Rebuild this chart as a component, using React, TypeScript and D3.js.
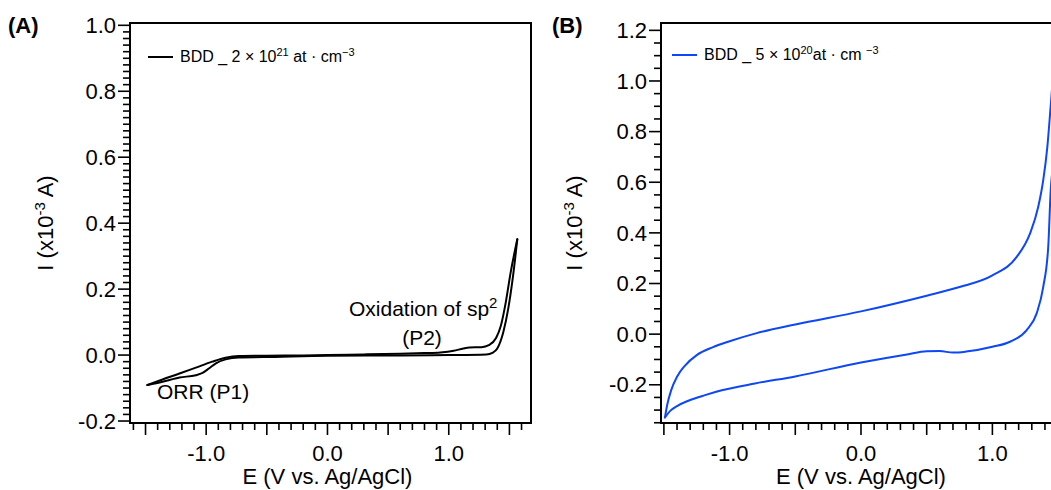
import React from 'react';
import * as d3 from 'd3';

const FONT = '"Liberation Sans", Arial, Helvetica, sans-serif';

// Panel A (BDD 2e21) – anodic (forward) branch
const eA_anodic = [-1.485, -1.36, -1.22, -1.085, -0.95, -0.84, -0.73, -0.5, -0.2, 0, 0.3, 0.6, 0.8, 0.93, 1.04, 1.12, 1.17, 1.27, 1.33, 1.39, 1.43, 1.47, 1.51, 1.565];
const iA_anodic = [-0.091, -0.074, -0.056, -0.038, -0.02, -0.008, -0.003, -0.002, -0.001, 0.0, 0.002, 0.004, 0.006, 0.008, 0.013, 0.02, 0.023, 0.024, 0.03, 0.052, 0.09, 0.16, 0.25, 0.351];
// Panel A – cathodic (reverse) branch, listed by ascending potential
const eA_cathodic = [-1.485, -1.36, -1.22, -1.085, -1.03, -0.975, -0.92, -0.84, -0.73, -0.53, 0, 0.6, 1.0, 1.31, 1.36, 1.40, 1.45, 1.49, 1.53, 1.565];
const iA_cathodic = [-0.091, -0.081, -0.068, -0.061, -0.054, -0.04, -0.025, -0.013, -0.007, -0.006, -0.002, -0.001, 0.0, 0.002, 0.007, 0.02, 0.07, 0.14, 0.24, 0.351];

// Panel B (BDD 5e20) – anodic branch
const eB_anodic = [-1.492, -1.475, -1.445, -1.40, -1.339, -1.25, -1.13, -1.0, -0.8, -0.5, 0, 0.5, 0.75, 1.0, 1.185, 1.286, 1.349, 1.387, 1.418, 1.443, 1.47, 1.5];
const iB_anodic = [-0.329, -0.28, -0.222, -0.168, -0.124, -0.083, -0.052, -0.028, 0.003, 0.038, 0.09, 0.152, 0.186, 0.232, 0.305, 0.397, 0.503, 0.608, 0.739, 0.897, 1.08, 1.33];
// Panel B – cathodic branch, ascending potential
const eB_cathodic = [-1.492, -1.45, -1.40, -1.314, -1.187, -1.06, -0.807, -0.5, 0, 0.35, 0.5, 0.6, 0.7, 0.8, 1.0, 1.134, 1.261, 1.337, 1.387, 1.425, 1.443, 1.47, 1.5];
const iB_cathodic = [-0.329, -0.302, -0.284, -0.263, -0.241, -0.222, -0.195, -0.167, -0.112, -0.08, -0.068, -0.067, -0.073, -0.069, -0.05, -0.03, 0.016, 0.082, 0.187, 0.345, 0.56, 0.75, 1.33];

// tick labels
const yLabelsA = [-0.2, 0.0, 0.2, 0.4, 0.6, 0.8, 1.0];
const yLabelsB = [-0.2, 0.0, 0.2, 0.4, 0.6, 0.8, 1.0, 1.2];
const xLabels = [-1.0, 0.0, 1.0];

const legendA = { pre: 'BDD _ 2 × 10', sup: '21', mid: ' at · cm', sup2: '−3' };
const legendB = { pre: 'BDD _ 5 × 10', sup: '20', mid: 'at · cm ', sup2: '−3' };

const TOP = 23;
const BOTTOM = 423;
const FS = 22;

type Cfg = {
  id: string;
  color: string;
  xDomain: [number, number];
  xRange: [number, number];
  yDomain: [number, number];
  yMinorStep: number;
  yMinorFrom: number;
  yMinorTo: number;
  xMinorFrom: number;
  xMinorTo: number;
  yLabels: number[];
  branches: [number[], number[]][];
  legend: { pre: string; sup: string; mid: string; sup2: string };
  legendX: number;
  legendY: number;
  tag: string;
  tagX: number;
  yTitleX: number;
};

function Panel({ cfg }: { cfg: Cfg }) {
  const x = d3.scaleLinear().domain(cfg.xDomain).range(cfg.xRange);
  const y = d3.scaleLinear().domain(cfg.yDomain).range([BOTTOM, TOP]);
  const x0 = cfg.xRange[0];
  const x1 = cfg.xRange[1];
  const line = d3
    .line<[number, number]>()
    .x((d) => x(d[0]))
    .y((d) => y(d[1]))
    .curve(d3.curveMonotoneX);

  const nY = Math.round((cfg.yMinorTo - cfg.yMinorFrom) / cfg.yMinorStep);
  const yTicks = d3.range(0, nY + 1).map((k) => +(cfg.yMinorFrom + k * cfg.yMinorStep).toFixed(4));
  const nX = Math.round((cfg.xMinorTo - cfg.xMinorFrom) / 0.1);
  const xTicks = d3.range(0, nX + 1).map((k) => +(cfg.xMinorFrom + k * 0.1).toFixed(4));
  const isMajorY = (v: number) => Math.abs(v / 0.2 - Math.round(v / 0.2)) < 1e-6;
  const isMajorX = (v: number) => Math.abs(v / 0.5 - Math.round(v / 0.5)) < 1e-6;
  const clipId = 'clip-' + cfg.id;
  const xMid = (x(-1) + x(1)) / 2;

  return (
    <g>
      <defs>
        <clipPath id={clipId}>
          <rect x={x0} y={TOP} width={x1 - x0} height={BOTTOM - TOP} />
        </clipPath>
      </defs>
      <rect x={x0} y={TOP} width={x1 - x0} height={BOTTOM - TOP} fill="none" stroke="#000" strokeWidth={2} />
      {yTicks.map((v) => (
        <line
          key={'y' + v}
          x1={x0 - (isMajorY(v) ? 12 : 7)}
          x2={x0}
          y1={y(v)}
          y2={y(v)}
          stroke="#000"
          strokeWidth={1.6}
        />
      ))}
      {cfg.yLabels.map((v) => (
        <text
          key={'yl' + v}
          x={x0 - 14}
          y={y(v)}
          dy="0.35em"
          textAnchor="end"
          fontFamily={FONT}
          fontSize={FS}
          fill="#000"
        >
          {v.toFixed(1)}
        </text>
      ))}
      {xTicks.map((v) => (
        <line
          key={'x' + v}
          x1={x(v)}
          x2={x(v)}
          y1={BOTTOM}
          y2={BOTTOM + (isMajorX(v) ? 12 : 7)}
          stroke="#000"
          strokeWidth={1.6}
        />
      ))}
      {xLabels.map((v) => (
        <text key={'xl' + v} x={x(v)} y={461} textAnchor="middle" fontFamily={FONT} fontSize={FS} fill="#000">
          {v.toFixed(1)}
        </text>
      ))}
      <text x={xMid} y={484} textAnchor="middle" fontFamily={FONT} fontSize={FS} fill="#000">
        E (V vs. Ag/AgCl)
      </text>
      <text
        transform={`translate(${cfg.yTitleX},${(TOP + BOTTOM) / 2}) rotate(-90)`}
        textAnchor="middle"
        fontFamily={FONT}
        fontSize={FS}
        fill="#000"
      >
        I (x10
        <tspan dy={-8} fontSize={15}>-3</tspan>
        <tspan dy={8}> A)</tspan>
      </text>
      <g clipPath={`url(#${clipId})`}>
        {cfg.branches.map(([es, is], k) => (
          <path
            key={k}
            d={line(es.map((e, j) => [e, is[j]] as [number, number])) || ''}
            fill="none"
            stroke={cfg.color}
            strokeWidth={2}
            strokeLinejoin="round"
            strokeLinecap="round"
          />
        ))}
      </g>
      <line
        x1={cfg.legendX}
        x2={cfg.legendX + 25}
        y1={cfg.legendY - 5}
        y2={cfg.legendY - 5}
        stroke={cfg.color}
        strokeWidth={2}
      />
      <text x={cfg.legendX + 32} y={cfg.legendY} fontFamily={FONT} fontSize={16} fill="#000">
        {cfg.legend.pre}
        <tspan dy={-6} fontSize={11}>{cfg.legend.sup}</tspan>
        <tspan dy={6}>{cfg.legend.mid}</tspan>
        <tspan dy={-6} fontSize={11}>{cfg.legend.sup2}</tspan>
      </text>
      <text x={cfg.tagX} y={33} fontFamily={FONT} fontSize={22} fontWeight="bold" fill="#000">
        {cfg.tag}
      </text>
    </g>
  );
}

const cfgA: Cfg = {
  id: 'A',
  color: '#000000',
  xDomain: [-1.628, 1.678],
  xRange: [130, 531],
  yDomain: [-0.206, 1.007],
  yMinorStep: 0.02,
  yMinorFrom: -0.2,
  yMinorTo: 1.0,
  xMinorFrom: -1.6,
  xMinorTo: 1.6,
  yLabels: yLabelsA,
  branches: [
    [eA_anodic, iA_anodic],
    [eA_cathodic, iA_cathodic],
  ],
  legend: legendA,
  legendX: 148,
  legendY: 62,
  tag: '(A)',
  tagX: 8,
  yTitleX: 53,
};

const cfgB: Cfg = {
  id: 'B',
  color: '#0d47f7',
  xDomain: [-1.522, 1.6],
  xRange: [661, 661 + 3.122 * 131.4],
  yDomain: [-0.351, 1.229],
  yMinorStep: 0.05,
  yMinorFrom: -0.35,
  yMinorTo: 1.2,
  xMinorFrom: -1.5,
  xMinorTo: 1.6,
  yLabels: yLabelsB,
  branches: [
    [eB_anodic, iB_anodic],
    [eB_cathodic, iB_cathodic],
  ],
  legend: legendB,
  legendX: 672,
  legendY: 60,
  tag: '(B)',
  tagX: 552,
  yTitleX: 582,
};

export default function App() {
  return (
    <svg
      width={1051}
      height={490}
      style={{ position: 'absolute', left: 0, top: 0, background: '#fff' }}
      xmlns="http://www.w3.org/2000/svg"
    >
      <rect x={0} y={0} width={1051} height={490} fill="#fff" />
      <Panel cfg={cfgA} />
      <Panel cfg={cfgB} />
      <text x={349} y={316} fontFamily={FONT} fontSize={21} fill="#000">
        Oxidation of sp
        <tspan dy={-8} fontSize={15}>2</tspan>
      </text>
      <text x={422} y={345} textAnchor="middle" fontFamily={FONT} fontSize={21} fill="#000">
        (P2)
      </text>
      <text x={157} y={399} fontFamily={FONT} fontSize={21} fill="#000">
        ORR (P1)
      </text>
    </svg>
  );
}
